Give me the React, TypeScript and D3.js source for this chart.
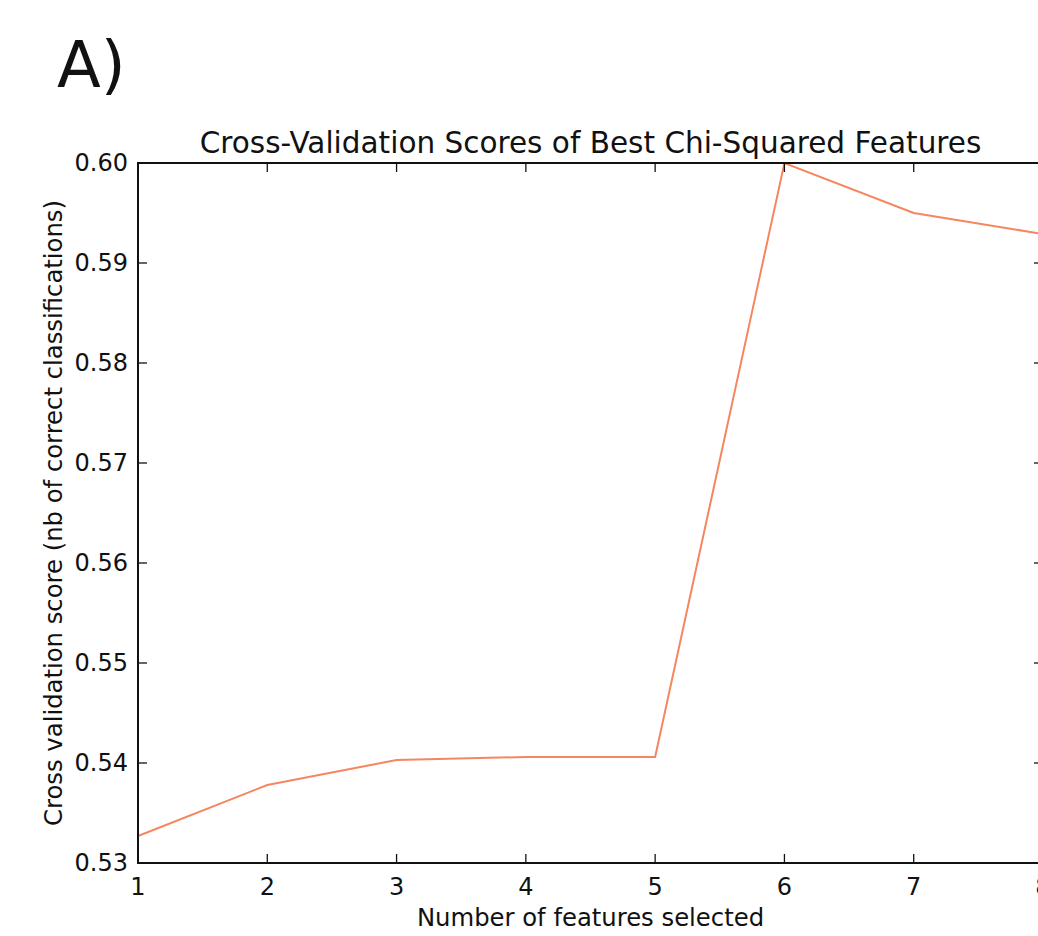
import React from "react";
import * as d3 from "d3";

// Number of chi-squared features kept vs. cross-validation score
const featureCounts = [1, 2, 3, 4, 5, 6, 7, 8];
const cvScores = [0.5327, 0.5378, 0.5403, 0.5406, 0.5406, 0.6, 0.595, 0.5929];
const xTicks = [1, 2, 3, 4, 5, 6, 7, 8];
const yTicks = [0.53, 0.54, 0.55, 0.56, 0.57, 0.58, 0.59, 0.6];

const W = 1038;
const H = 936;
const FONT = "'DejaVu Sans', sans-serif";

export default function App() {
  const left = 138;
  const right = 1043;
  const top = 163;
  const bottom = 863;
  const x = d3.scaleLinear().domain([1, 8]).range([left, right]);
  const y = d3.scaleLinear().domain([0.53, 0.6]).range([bottom, top]);
  const line = d3
    .line<number>()
    .x((_, i) => x(featureCounts[i]))
    .y((d) => y(d));
  const tickLen = 9;
  const ink = "#111";

  return (
    <svg
      width={W}
      height={H}
      style={{ position: "absolute", left: 0, top: 0, background: "#fff" }}
      fontFamily={FONT}
    >
      <rect x={0} y={0} width={W} height={H} fill="#fff" />
      <text x={57} y={87} fontSize={64} fill={ink}>
        A)
      </text>
      <text x={(left + right) / 2} y={153} fontSize={29.5} textAnchor="middle" fill={ink}>
        Cross-Validation Scores of Best Chi-Squared Features
      </text>

      <path d={line(cvScores) ?? ""} fill="none" stroke="#f4875f" strokeWidth={2} />

      {/* frame */}
      <rect
        x={left}
        y={top}
        width={right - left}
        height={bottom - top}
        fill="none"
        stroke={ink}
        strokeWidth={2}
      />

      {/* x ticks, inward on bottom and top */}
      {xTicks.map((t) => (
        <g key={"x" + t}>
          <line x1={x(t)} x2={x(t)} y1={bottom} y2={bottom - tickLen} stroke={ink} strokeWidth={1.3} />
          <line x1={x(t)} x2={x(t)} y1={top} y2={top + tickLen} stroke={ink} strokeWidth={1.3} />
          <text x={x(t)} y={bottom + 32} fontSize={24} textAnchor="middle" fill={ink}>
            {t}
          </text>
        </g>
      ))}

      {/* y ticks, inward on left and right */}
      {yTicks.map((t) => (
        <g key={"y" + t}>
          <line x1={left} x2={left + tickLen} y1={y(t)} y2={y(t)} stroke={ink} strokeWidth={1.3} />
          <line x1={right} x2={right - tickLen} y1={y(t)} y2={y(t)} stroke={ink} strokeWidth={1.3} />
          <text
            x={left - 10}
            y={y(t)}
            fontSize={24}
            textAnchor="end"
            dominantBaseline="central"
            fill={ink}
          >
            {d3.format(".2f")(t)}
          </text>
        </g>
      ))}

      <text x={(left + right) / 2} y={926} fontSize={24.3} textAnchor="middle" fill={ink}>
        Number of features selected
      </text>
      <text
        transform={`translate(62, ${(top + bottom) / 2}) rotate(-90)`}
        fontSize={24.3}
        textAnchor="middle"
        fill={ink}
      >
        Cross validation score (nb of correct classifications)
      </text>
    </svg>
  );
}
